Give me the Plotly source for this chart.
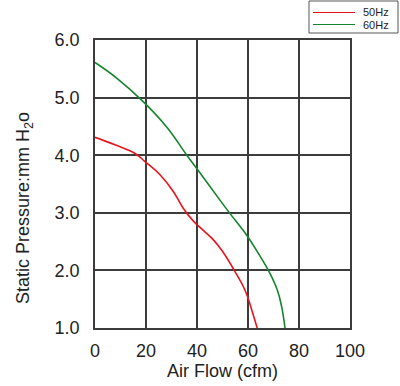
import plotly.graph_objects as go

flow_50 = [0, 7.8, 15.7, 19.6, 25.5, 30.7, 34.6, 38.5, 43.1, 45.8, 49.7, 54.9, 58.8, 61.5, 63.6]
pres_50 = [4.31, 4.18, 4.03, 3.89, 3.66, 3.37, 3.08, 2.86, 2.67, 2.56, 2.35, 1.98, 1.66, 1.31, 1.0]
flow_60 = [0, 8.5, 18.9, 28.1, 36.0, 39.9, 49.0, 52.9, 59.5, 64.0, 68.6, 71.5, 73.2, 74.5]
pres_60 = [5.61, 5.34, 4.93, 4.49, 4.00, 3.77, 3.22, 2.99, 2.61, 2.30, 1.95, 1.66, 1.37, 1.0]

series_names = ["50Hz", "60Hz"]
series_colors = ["#e8141c", "#14852e"]

x_ticks = [0, 20, 40, 60, 80, 100]
y_ticks = [1.0, 2.0, 3.0, 4.0, 5.0, 6.0]
y_labels = ["1.0", "2.0", "3.0", "4.0", "5.0", "6.0"]

x_title = "Air Flow (cfm)"
y_title = "Static Pressure:mm H<sub>2</sub>o"

FONT = "Liberation Sans, Arial, sans-serif"
TXT = "#222222"

fig = go.Figure()
for fx, py, nm, col in [(flow_50, pres_50, series_names[0], series_colors[0]),
                        (flow_60, pres_60, series_names[1], series_colors[1])]:
    fig.add_trace(go.Scatter(x=fx, y=py, mode="lines", name=nm, showlegend=False,
                             line=dict(color=col, width=1.6, shape="spline", smoothing=1.2)))

axis_common = dict(showgrid=True, gridcolor="#3c3c3c", gridwidth=1.5,
                   showline=True, linecolor="#3c3c3c", linewidth=1.5, mirror=True,
                   zeroline=False, ticks="",
                   tickfont=dict(family=FONT, size=18, color=TXT))

W, H = 400, 386
L, R, T, B = 95, 350, 40, 328
def px(x): return (x - L) / (R - L)
def py_(y): return (B - y) / (B - T)

fig.update_layout(
    width=W, height=H,
    margin=dict(l=L, r=W - R, t=T, b=H - B, autoexpand=False),
    paper_bgcolor="white", plot_bgcolor="white",
    xaxis=dict(range=[0, 100], tickvals=x_ticks, ticklabelstandoff=6, **axis_common,
               title=dict(text=x_title, standoff=3,
                          font=dict(family=FONT, size=18, color=TXT))),
    yaxis=dict(range=[1.0, 6.0], tickvals=y_ticks, ticktext=y_labels, ticklabelstandoff=10,
               **axis_common),
    showlegend=False,
)

# y-axis title (placed lower than centre, as in the reference)
fig.add_annotation(x=px(25), y=py_(208), xref="paper", yref="paper", text=y_title,
                   textangle=-90, showarrow=False, xanchor="center", yanchor="middle",
                   font=dict(family=FONT, size=18, color=TXT))

# legend box
fig.add_shape(type="rect", xref="paper", yref="paper",
              x0=px(309), x1=px(398), y0=py_(33), y1=py_(1),
              line=dict(color="#555555", width=1), fillcolor="white", layer="above")
for i, (nm, col) in enumerate(zip(series_names, series_colors)):
    yy = 12.5 + i * 12
    fig.add_shape(type="line", xref="paper", yref="paper",
                  x0=px(313), x1=px(355), y0=py_(yy), y1=py_(yy),
                  line=dict(color=col, width=1.2), layer="above")
    fig.add_annotation(x=px(391), y=py_(yy), xref="paper", yref="paper",
                       text=nm, showarrow=False, xanchor="right", yanchor="middle",
                       font=dict(family=FONT, size=11, color=TXT))

fig.write_html("out.html", config={"displayModeBar": False},
               post_script="document.body.style.margin='0';")
